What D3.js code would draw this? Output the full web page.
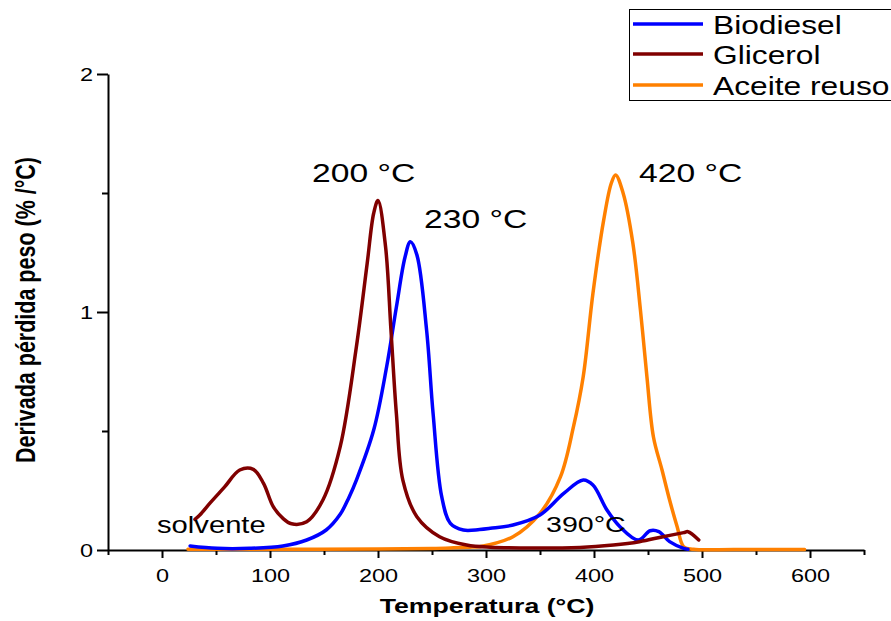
<!DOCTYPE html>
<html>
<head>
<meta charset="utf-8">
<script src="https://cdn.jsdelivr.net/npm/d3@7"></script>
<style>
  body { margin: 0; background: #fff; }
  svg { display: block; }
  text { font-family: "Liberation Sans", Arial, Helvetica, sans-serif; fill: #000; }
</style>
</head>
<body>
<svg id="chart" width="891" height="621"></svg>
<script>
// DTG curves: temperature (°C) and derivative of weight loss (%/°C)
const biodieselT = [26, 51, 81, 112, 134, 152, 165, 173, 180, 196, 208, 217, 225, 230, 236, 245, 251, 259, 267, 279, 294, 304, 325, 350, 372, 390, 399, 412, 424, 441, 452, 460, 470, 483, 487];
const biodieselV = [0.017, 0.007, 0.007, 0.017, 0.042, 0.084, 0.15, 0.22, 0.294, 0.504, 0.77, 1.02, 1.23, 1.295, 1.24, 0.924, 0.574, 0.224, 0.112, 0.084, 0.086, 0.091, 0.105, 0.147, 0.238, 0.294, 0.273, 0.168, 0.098, 0.042, 0.081, 0.077, 0.035, 0.007, 0.003];

const glicerolT = [30.5, 35, 45, 58, 72, 84.5, 94, 103, 112, 120, 134, 149, 165, 180, 190, 196, 200, 207, 212, 217, 223, 236, 257, 282, 304, 387, 418, 442, 464, 483, 487, 497];
const glicerolV = [0.129, 0.147, 0.2, 0.265, 0.336, 0.339, 0.28, 0.182, 0.133, 0.11, 0.119, 0.21, 0.434, 0.854, 1.205, 1.415, 1.468, 1.274, 0.924, 0.574, 0.294, 0.14, 0.056, 0.021, 0.012, 0.011, 0.021, 0.035, 0.056, 0.073, 0.077, 0.042];

const aceiteT = [24, 100, 200, 250, 270, 285, 294, 325, 350, 369, 381, 390, 399, 409, 416, 420, 427, 436, 443, 449, 455, 463, 470, 477, 483, 492, 530, 595];
const aceiteV = [0.003, 0.003, 0.004, 0.006, 0.009, 0.012, 0.014, 0.056, 0.154, 0.308, 0.518, 0.728, 1.078, 1.387, 1.541, 1.576, 1.499, 1.289, 1.008, 0.728, 0.476, 0.336, 0.21, 0.098, 0.014, 0.003, 0.002, 0.002];

const seriesNames = ["Biodiesel", "Glicerol", "Aceite reuso"];
const seriesColors = ["#0000ff", "#800000", "#ff8000"];

const xMajorTicks = [0, 100, 200, 300, 400, 500, 600];
const xMinorTicks = [-50, 50, 150, 250, 350, 450, 550, 650];
const yMajorTicks = [0, 1, 2];
const yMinorTicks = [0.5, 1.5];

// peak annotations
const peakLabels = ["200 °C", "230 °C", "420 °C", "390°C"];
const solventLabel = "solvente";

// glyphs in this figure are drawn horizontally widened
const SX = 1.27;

const svg = d3.select("#chart");

const x = d3.scaleLinear().domain([-50, 650]).range([108, 864]);
const y = d3.scaleLinear().domain([0, 2]).range([550, 74]);

// ---- axes ----
const gx = svg.append("g").attr("transform", `translate(0,${y(0)})`)
  .call(d3.axisBottom(x).tickValues(xMajorTicks).tickSize(8).tickSizeOuter(0).tickFormat(d3.format("d")));
gx.select(".domain").attr("stroke", "#000").attr("stroke-width", 2);
gx.selectAll(".tick line").attr("stroke", "#000").attr("stroke-width", 2);
gx.selectAll(".tick text")
  .attr("y", 32).attr("dy", 0)
  .attr("font-size", 18.5)
  .attr("transform", `scale(${SX},1)`);

const gxm = svg.append("g").attr("transform", `translate(0,${y(0)})`)
  .call(d3.axisBottom(x).tickValues(xMinorTicks).tickSize(5).tickSizeOuter(0).tickFormat(""));
gxm.select(".domain").remove();
gxm.selectAll(".tick line").attr("stroke", "#000").attr("stroke-width", 2);

const gy = svg.append("g").attr("transform", `translate(${x(-50)},0)`)
  .call(d3.axisLeft(y).tickValues(yMajorTicks).tickSize(11).tickSizeOuter(0).tickFormat(d3.format("d")));
gy.select(".domain").attr("stroke", "#000").attr("stroke-width", 2);
gy.selectAll(".tick line").attr("stroke", "#000").attr("stroke-width", 2);
gy.selectAll(".tick text")
  .attr("x", -15 / SX).attr("dy", "0.35em")
  .attr("font-size", 18.5)
  .attr("transform", `scale(${SX},1)`);

const gym = svg.append("g").attr("transform", `translate(${x(-50)},0)`)
  .call(d3.axisLeft(y).tickValues(yMinorTicks).tickSize(6).tickSizeOuter(0).tickFormat(""));
gym.select(".domain").remove();
gym.selectAll(".tick line").attr("stroke", "#000").attr("stroke-width", 2);

svg.selectAll(".tick text").attr("fill", "#000").style("font-family", '"Liberation Sans", Arial, sans-serif');

// axis titles
svg.append("text")
  .attr("transform", `translate(487,613) scale(${SX},1)`)
  .attr("text-anchor", "middle")
  .attr("font-size", 21).attr("font-weight", "bold")
  .text("Temperatura (°C)");

svg.append("text")
  .attr("transform", `translate(35,310) scale(${SX},1) rotate(-90)`)
  .attr("text-anchor", "middle")
  .attr("font-size", 21.5).attr("font-weight", "bold")
  .text("Derivada pérdida peso (% /°C)");

// ---- curves ----
const line = d3.line()
  .x(d => x(d[0]))
  .y(d => y(d[1]))
  .curve(d3.curveCatmullRom.alpha(0.5));

const seriesData = [
  d3.zip(biodieselT, biodieselV),
  d3.zip(glicerolT, glicerolV),
  d3.zip(aceiteT, aceiteV)
];

// draw order: aceite first, then biodiesel, then glicerol on top
[2, 0, 1].forEach(i => {
  svg.append("path")
    .datum(seriesData[i])
    .attr("fill", "none")
    .attr("stroke", seriesColors[i])
    .attr("stroke-width", 3.5)
    .attr("stroke-linejoin", "round")
    .attr("stroke-linecap", "round")
    .attr("d", line);
});

// ---- annotations ----
const addText = (str, px, py, size) =>
  svg.append("text")
    .attr("transform", `translate(${px},${py}) scale(${SX},1)`)
    .attr("font-size", size)
    .text(str);

addText(peakLabels[0], 312, 182, 26.5);
addText(peakLabels[1], 424, 228, 26.5);
addText(peakLabels[2], 639, 182, 26.5);
addText(peakLabels[3], 546, 532, 22.5);
addText(solventLabel, 157, 533, 23);

// ---- legend ----
const legend = svg.append("g");
legend.append("rect")
  .attr("x", 629.5).attr("y", 9.5)
  .attr("width", 280).attr("height", 91)
  .attr("fill", "#fff").attr("stroke", "#000").attr("stroke-width", 1);

const rowY = [24, 54, 85];
seriesNames.forEach((name, i) => {
  legend.append("line")
    .attr("x1", 633).attr("x2", 703)
    .attr("y1", rowY[i]).attr("y2", rowY[i])
    .attr("stroke", seriesColors[i]).attr("stroke-width", 3.5);
  legend.append("text")
    .attr("transform", `translate(713,${rowY[i] + 10}) scale(${SX},1)`)
    .attr("font-size", 25)
    .text(name);
});
</script>
</body>
</html>
